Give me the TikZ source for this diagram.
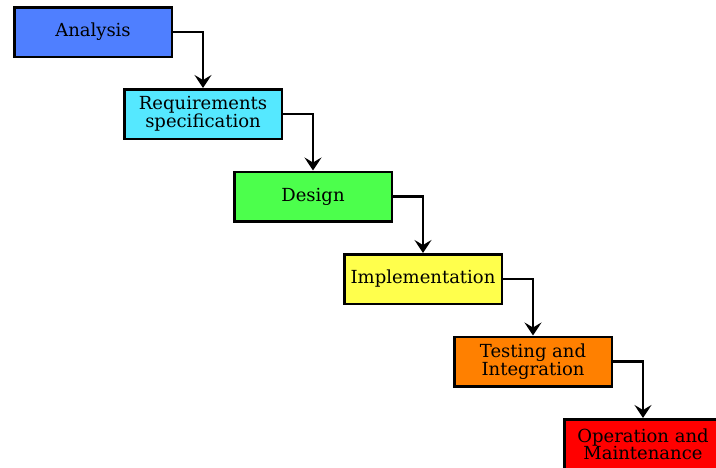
\documentclass[tikz,border=0pt]{standalone}
\usepackage{fontspec}
\setmainfont{DejaVu Serif}
\usetikzlibrary{positioning,arrows.meta}
\definecolor{anablue}{HTML}{4F7FFF}
\definecolor{reqcyan}{HTML}{55E8FF}
\definecolor{desgreen}{HTML}{4CFF4C}
\definecolor{impyellow}{HTML}{FFFF4C}
\definecolor{tstorange}{HTML}{FF8000}
\definecolor{opred}{HTML}{FF0000}
\tikzset{
  phase/.style={draw,line width=2.5pt,minimum width=157.5pt,minimum height=49.5pt,
    inner sep=1pt,align=center,font=\fontsize{18}{17}\selectfont},
  flow/.style={line width=2.3pt,-{Stealth[length=13pt,width=17pt,inset=5pt]}}
}
\begin{document}
\begin{tikzpicture}
  \useasboundingbox (0,0) rectangle (716pt,-467pt);
  \clip (0,0) rectangle (716pt,-467pt);
  \path (93pt,-32pt) node[phase,fill=anablue] (A) {Analysis};
  \path node[phase,fill=reqcyan,below right=30pt and -50pt of A] (R) {Requirements\\specification};
  \path node[phase,fill=desgreen,below right=30.5pt and -50pt of R] (D) {Design};
  \path node[phase,fill=impyellow,below right=30.5pt and -50pt of D] (I) {Implementation};
  \path node[phase,fill=tstorange,below right=30.5pt and -50pt of I] (T) {Testing and\\Integration};
  \path node[phase,fill=opred,below right=30.5pt and -50pt of T] (O) {Operation and\\Maintenance};

  \draw[flow] (A.east) -| (R.north);
  \draw[flow] (R.east) -| (D.north);
  \draw[flow] (D.east) -| (I.north);
  \draw[flow] (I.east) -| (T.north);
  \draw[flow] (T.east) -| (O.north);
\end{tikzpicture}
\end{document}
